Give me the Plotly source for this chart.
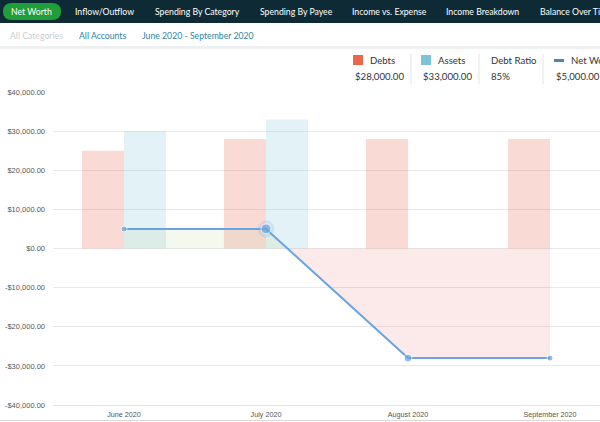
import plotly.graph_objects as go

# ---------------- data ----------------
months = ["June 2020", "July 2020", "August 2020", "September 2020"]
debts = [25000, 28000, 28000, 28000]
assets = [30000, 33000, 0, 0]
net_worth = [5000, 5000, -28000, -28000]
y_ticks = [-40000, -30000, -20000, -10000, 0, 10000, 20000, 30000, 40000]

nav_items = ["Net Worth", "Inflow/Outflow", "Spending By Category", "Spending By Payee",
             "Income vs. Expense", "Income Breakdown", "Balance Over Time"]
filters = ["All Categories", "All Accounts", "June 2020 - September 2020"]
legend_titles = ["Debts", "Assets", "Debt Ratio", "Net Worth"]
legend_values = ["$28,000.00", "$33,000.00", "85%", "$5,000.00"]

# ---------------- geometry helpers ----------------
W, H = 600, 422
L, R, T, B = 53, 0, 92, 17
PW = W - L - R
PH = H - T - B


def px(x):
    return (x - L) / PW


def py(y):
    return (H - B - y) / PH


def money(v):
    s = "${:,.2f}".format(abs(v))
    return "-" + s if v < 0 else s


xi = list(range(len(months)))

# split net worth into positive / negative fill parts (add zero crossings)
fx, fy = [], []
for i in range(len(xi)):
    if i > 0:
        y0, y1 = net_worth[i - 1], net_worth[i]
        if (y0 > 0 > y1) or (y0 < 0 < y1):
            t = y0 / (y0 - y1)
            fx.append(xi[i - 1] + t * (xi[i] - xi[i - 1]))
            fy.append(0)
    fx.append(xi[i])
    fy.append(net_worth[i])
pos_y = [max(v, 0) for v in fy]
neg_y = [min(v, 0) for v in fy]

FONT = "Lato"
LINE = "#68a3e2"

fig = go.Figure()
fig.add_trace(go.Bar(x=xi, y=debts, name="Debts", marker_color="rgba(232,102,74,0.24)",
                     marker_line_width=0))
fig.add_trace(go.Bar(x=xi, y=assets, name="Assets", marker_color="rgba(124,195,217,0.22)",
                     marker_line_width=0))
fig.add_trace(go.Scatter(x=fx, y=pos_y, mode="lines", line=dict(width=0),
                         fill="tozeroy", fillcolor="rgba(190,215,160,0.17)", hoverinfo="skip"))
fig.add_trace(go.Scatter(x=fx, y=neg_y, mode="lines", line=dict(width=0),
                         fill="tozeroy", fillcolor="rgba(230,125,120,0.16)", hoverinfo="skip"))
# hover halo on July point
fig.add_trace(go.Scatter(x=[xi[1]], y=[net_worth[1]], mode="markers",
                         marker=dict(size=17, color="rgba(104,163,226,0.18)"), hoverinfo="skip"))
fig.add_trace(go.Scatter(x=xi, y=net_worth, mode="lines+markers", name="Net Worth",
                         line=dict(color=LINE, width=2),
                         marker=dict(size=[6, 10, 8, 6], color=LINE)))

shapes = []
annotations = []

# nav bar
shapes.append(dict(type="rect", xref="paper", yref="paper", x0=px(0), x1=px(W), y0=py(23), y1=py(0),
                   fillcolor="#0e2b35", line_width=0, layer="above"))
shapes.append(dict(type="path", xref="paper", yref="paper", layer="above", fillcolor="#1f9e3c",
                   line_width=0,
                   path="M {a},{t} L {b},{t} Q {c},{t} {c},{m} Q {c},{bt} {b},{bt} L {a},{bt} Q {d},{bt} {d},{m} Q {d},{t} {a},{t} Z".format(
                       a=px(12), b=px(52), c=px(61), d=px(3), t=py(3), bt=py(20), m=py(11.5))))
nav_x = [31.5, 73, 153, 258, 350, 444, 538]
for i, (txt, x) in enumerate(zip(nav_items, nav_x)):
    annotations.append(dict(text=txt, x=px(x), y=py(11.5), xref="paper", yref="paper",
                            xanchor="center" if i == 0 else "left", yanchor="middle", showarrow=False,
                            font=dict(family=FONT, size=8.7, color="white")))

# filter row
shapes.append(dict(type="rect", xref="paper", yref="paper", x0=px(0), x1=px(W), y0=py(49), y1=py(46),
                   fillcolor="#eef1f2", line_width=0, layer="above"))
filter_x = [8, 77, 140]
filter_c = ["#c9cfd3", "#2f84a0", "#2f84a0"]
for txt, x, c in zip(filters, filter_x, filter_c):
    annotations.append(dict(text=txt, x=px(x), y=py(36), xref="paper", yref="paper",
                            xanchor="left", yanchor="middle", showarrow=False,
                            font=dict(family=FONT, size=8.7, color=c)))

# custom legend
leg_x = [353, 421, 489, 554]
sep_x = [411, 479, 543]
for x in sep_x:
    shapes.append(dict(type="line", xref="paper", yref="paper", x0=px(x), x1=px(x), y0=py(84), y1=py(54),
                       line=dict(color="#e3e3e3", width=1), layer="above"))
shapes.append(dict(type="rect", xref="paper", yref="paper", x0=px(leg_x[0]), x1=px(leg_x[0] + 10),
                   y0=py(65), y1=py(55), fillcolor="#e8664a", line_width=0, layer="above"))
shapes.append(dict(type="rect", xref="paper", yref="paper", x0=px(leg_x[1]), x1=px(leg_x[1] + 10),
                   y0=py(65), y1=py(55), fillcolor="#7cc4da", line_width=0, layer="above"))
shapes.append(dict(type="line", xref="paper", yref="paper", x0=px(leg_x[3]), x1=px(leg_x[3] + 10),
                   y0=py(60.5), y1=py(60.5), line=dict(color="#4f86a8", width=3), layer="above"))
title_off = [15, 15, 0, 15]
for i in range(4):
    annotations.append(dict(text=legend_titles[i], x=px(leg_x[i] + title_off[i]), y=py(60.5),
                            xref="paper", yref="paper", xanchor="left", yanchor="middle",
                            showarrow=False, font=dict(family=FONT, size=9.6, color="#333333")))
    annotations.append(dict(text=legend_values[i], x=px(leg_x[i]), y=py(77), xref="paper", yref="paper",
                            xanchor="left", yanchor="middle", showarrow=False,
                            font=dict(family=FONT, size=9.6, color="#333333")))

# bottom line
shapes.append(dict(type="line", xref="paper", yref="paper", x0=px(0), x1=px(W), y0=py(420.5), y1=py(420.5),
                   line=dict(color="#d9d9d9", width=1), layer="above"))

fig.update_layout(
    width=W, height=H, margin=dict(l=L, r=R, t=T, b=B),
    template="none",
    paper_bgcolor="white", plot_bgcolor="white",
    barmode="group", bargap=0.408, bargroupgap=0,
    showlegend=False,
    shapes=shapes, annotations=annotations,
    xaxis=dict(range=[-0.5, -0.5 + PW / 142.0], tickvals=xi, ticktext=months, showgrid=False,
               zeroline=False, showline=True, linecolor="#dfe4ea", linewidth=1, ticks="",
               tickfont=dict(family="Liberation Sans", size=7.2, color="#555555"),
               ticklabelstandoff=2, automargin=False, fixedrange=True),
    yaxis=dict(range=[-40000, 40000], tickvals=y_ticks, ticktext=[money(v) for v in y_ticks],
               showgrid=True, gridcolor="#e8e8e8", gridwidth=1, zeroline=False, ticks="",
               tickfont=dict(family="Liberation Sans", size=7.5, color="#555555"),
               ticklabelstandoff=7, automargin=False, fixedrange=True),
)

fig.write_html("out.html")
